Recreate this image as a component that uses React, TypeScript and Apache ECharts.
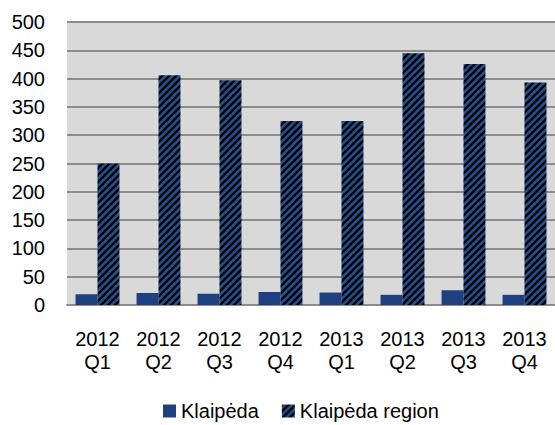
import React, { useEffect, useRef } from "react";
import * as echarts from "echarts";

const categories = ["2012\nQ1", "2012\nQ2", "2012\nQ3", "2012\nQ4", "2013\nQ1", "2013\nQ2", "2013\nQ3", "2013\nQ4"];
const klaipeda = [19, 21, 20, 23, 22, 18, 26, 18];
const klaipedaRegion = [250, 406, 397, 325, 325, 445, 426, 393];
const seriesNames = ["Klaipėda", "Klaipėda region"];

const FONT = "'Liberation Sans Narrow', 'Arial Narrow', 'Liberation Sans', Arial, sans-serif";
const BLUE = "#1f4080";
const HATCH_BLUE = "#25508f";
const GRID = "#8c8c8c";

function makeHatch(): HTMLCanvasElement {
  const s = 7;
  const c = document.createElement("canvas");
  c.width = s;
  c.height = s;
  const ctx = c.getContext("2d")!;
  ctx.fillStyle = HATCH_BLUE;
  ctx.fillRect(0, 0, s, s);
  ctx.strokeStyle = "#000000";
  ctx.lineWidth = 2.3;
  ctx.beginPath();
  ctx.moveTo(-1, s + 1);
  ctx.lineTo(s + 1, -1);
  ctx.moveTo(-s / 2 - 1, s / 2 + 1);
  ctx.lineTo(s / 2 + 1, -s / 2 - 1);
  ctx.moveTo(s / 2 - 1, s * 1.5 + 1);
  ctx.lineTo(s * 1.5 + 1, s / 2 - 1);
  ctx.stroke();
  return c;
}

export default function App() {
  const ref = useRef<HTMLDivElement>(null);
  useEffect(() => {
    if (!ref.current) return;
    const chart = echarts.init(ref.current, undefined, { renderer: "svg" });
    const hatch = makeHatch();
    chart.setOption({
      animation: false,
      backgroundColor: "#ffffff",
      textStyle: { fontFamily: FONT },
      grid: {
        left: 67,
        top: 22,
        width: 500,
        height: 283,
        show: true,
        backgroundColor: "#d9d9d9",
        borderWidth: 0,
      },
      legend: {
        data: seriesNames,
        left: 163,
        top: 400,
        padding: 0,
        itemWidth: 13,
        itemHeight: 13,
        itemGap: 23,
        icon: "rect",
        textStyle: { fontSize: 20, lineHeight: 22, color: "#000", fontFamily: FONT },
      },
      xAxis: {
        type: "category",
        data: categories,
        axisTick: { show: false },
        axisLine: { lineStyle: { color: GRID, width: 2 } },
        axisLabel: {
          fontSize: 20,
          lineHeight: 23,
          color: "#000",
          margin: 22,
          fontFamily: FONT,
          interval: 0,
        },
      },
      yAxis: {
        type: "value",
        min: 0,
        max: 500,
        interval: 50,
        axisLine: { show: false },
        axisTick: { show: false },
        splitLine: { lineStyle: { color: GRID, width: 2 } },
        axisLabel: { fontSize: 20, color: "#000", margin: 22, fontFamily: FONT },
      },
      series: [
        {
          name: seriesNames[0],
          type: "bar",
          data: klaipeda,
          barGap: "0%",
          barCategoryGap: "28%",
          itemStyle: { color: BLUE },
        },
        {
          name: seriesNames[1],
          type: "bar",
          data: klaipedaRegion,
          barGap: "0%",
          barCategoryGap: "28%",
          itemStyle: { color: { image: hatch, repeat: "repeat" } },
        },
      ],
    });
    return () => chart.dispose();
  }, []);
  return <div ref={ref} style={{ position: "fixed", left: 0, top: 0, width: 555, height: 425 }} />;
}
